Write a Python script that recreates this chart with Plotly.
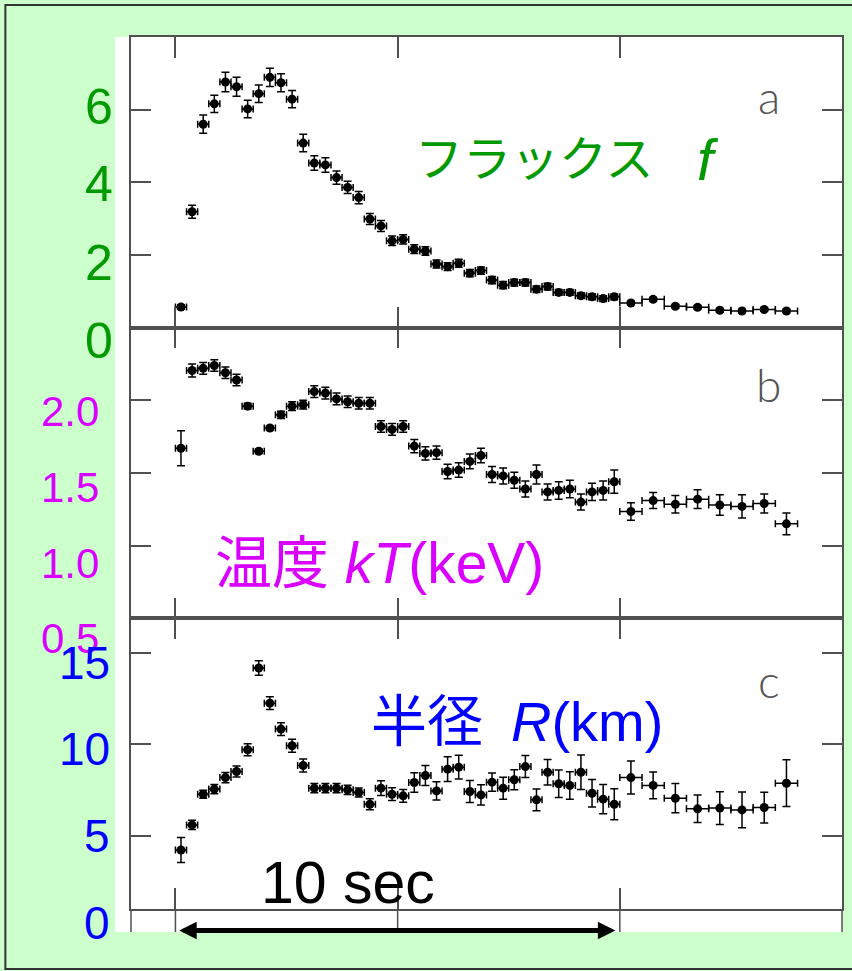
import plotly.graph_objects as go
from plotly.subplots import make_subplots

# time bin centres (s) and half widths
time_s = [0.125, 0.375, 0.625, 0.875, 1.125, 1.375, 1.625, 1.875, 2.125, 2.375,
          2.625, 2.875, 3.125, 3.375, 3.625, 3.875, 4.125, 4.375, 4.625, 4.875,
          5.125, 5.375, 5.625, 5.875, 6.125, 6.375, 6.625, 6.875, 7.125, 7.375,
          7.625, 7.875, 8.125, 8.375, 8.625, 8.875, 9.125, 9.375, 9.625, 9.875,
          10.25, 10.75, 11.25, 11.75, 12.25, 12.75, 13.25, 13.75]
time_half = [0.125] * 40 + [0.25] * 8

# a: flux f
flux = [0.57, 3.19, 5.60, 6.16, 6.76, 6.63, 6.02, 6.44, 6.89, 6.74,
        6.29, 5.08, 4.53, 4.48, 4.13, 3.86, 3.58, 2.99, 2.80, 2.39,
        2.43, 2.16, 2.11, 1.75, 1.68, 1.77, 1.50, 1.57, 1.31, 1.17,
        1.24, 1.24, 1.06, 1.13, 0.97, 0.97, 0.88, 0.85, 0.80, 0.85,
        0.68, 0.78, 0.59, 0.56, 0.48, 0.46, 0.50, 0.46]
flux_err = [0.06, 0.18, 0.25, 0.24, 0.27, 0.26, 0.24, 0.24, 0.25, 0.25,
            0.24, 0.24, 0.20, 0.20, 0.18, 0.17, 0.17, 0.15, 0.15, 0.13,
            0.13, 0.12, 0.12, 0.11, 0.11, 0.11, 0.10, 0.10, 0.10, 0.10,
            0.09, 0.09, 0.09, 0.09, 0.08, 0.08, 0.08, 0.08, 0.08, 0.08,
            0.05, 0.05, 0.05, 0.05, 0.05, 0.05, 0.05, 0.05]

# b: temperature kT (keV)
kT = [1.67, 2.205, 2.22, 2.24, 2.19, 2.14, 1.96, 1.65, 1.81, 1.90,
      1.96, 1.97, 2.06, 2.05, 2.01, 1.99, 1.98, 1.98, 1.82, 1.80,
      1.82, 1.685, 1.635, 1.64, 1.51, 1.52, 1.58, 1.62, 1.49, 1.48,
      1.45, 1.39, 1.49, 1.37, 1.38, 1.39, 1.30, 1.37, 1.38, 1.44,
      1.235, 1.31, 1.285, 1.32, 1.28, 1.27, 1.29, 1.15]
kT_err = [0.12, 0.045, 0.04, 0.04, 0.04, 0.04, 0.02, 0.015, 0.015, 0.025,
          0.03, 0.03, 0.04, 0.04, 0.04, 0.04, 0.04, 0.04, 0.04, 0.04,
          0.04, 0.045, 0.045, 0.045, 0.05, 0.05, 0.05, 0.05, 0.055, 0.055,
          0.055, 0.055, 0.065, 0.055, 0.06, 0.06, 0.055, 0.06, 0.065, 0.08,
          0.06, 0.055, 0.06, 0.065, 0.07, 0.08, 0.065, 0.075]

# c: radius R (km)
radius = [4.23, 5.60, 7.28, 7.56, 8.19, 8.52, 9.71, 14.18, 12.26, 10.84,
          9.93, 8.85, 7.61, 7.61, 7.61, 7.52, 7.37, 6.73, 7.61, 7.28,
          7.19, 7.92, 8.30, 7.46, 8.65, 8.76, 7.43, 7.24, 7.94, 7.61,
          8.07, 8.79, 6.97, 8.48, 7.85, 7.76, 8.48, 7.33, 7.01, 6.73,
          8.19, 7.76, 7.06, 6.48, 6.52, 6.42, 6.55, 7.88]
radius_err = [0.68, 0.25, 0.22, 0.25, 0.28, 0.30, 0.33, 0.40, 0.35, 0.35,
              0.35, 0.35, 0.25, 0.25, 0.25, 0.25, 0.25, 0.30, 0.40, 0.35,
              0.35, 0.53, 0.55, 0.50, 0.68, 0.65, 0.60, 0.55, 0.50, 0.60,
              0.55, 0.60, 0.60, 0.70, 0.75, 0.75, 0.95, 0.75, 0.80, 0.85,
              0.90, 0.73, 0.80, 0.75, 0.90, 0.98, 0.84, 1.28]

# axis settings
x_range = [-1, 15]
x_ticks = [0, 5, 10]
y_ranges = [[0, 8], [0.5, 2.5], [1.0, 16.9]]
y_ticks = [[2, 4, 6], [1.0, 1.5, 2.0], [5, 10, 15]]
domains = [[2 / 3, 1], [1 / 3, 2 / 3], [0, 1 / 3]]

# hand-written tick labels left of the frame
label_text = [["6", "4", "2", "0"], ["2.0", "1.5", "1.0", "0.5"], ["15", "10", "5", "0"]]
label_vals = [[6, 4, 2, 0], [2.0, 1.5, 1.0, 0.5], [15, 10, 5, 0]]
label_shift = [[3, -2, -8, -13], [-11, -14, -18, -20], [-10, -5, 0, 4]]
label_x = [-0.0225, -0.0415, -0.0265]
label_size = [50, 42, 46]
colors = ["#009900", "#d900ff", "#0000ff"]

BG = "#ccffcc"
FRAME = "#505050"

fig = make_subplots(rows=3, cols=1, shared_xaxes=True, vertical_spacing=0)

series = [(flux, flux_err), (kT, kT_err), (radius, radius_err)]
for i, (vals, errs) in enumerate(series):
    fig.add_trace(go.Scatter(
        x=time_s, y=vals,
        mode="markers",
        marker=dict(color="black", size=9),
        error_y=dict(type="data", array=errs, color="black", thickness=1.5, width=4),
        error_x=dict(type="data", array=time_half, color="black", thickness=1.5, width=3.5),
        showlegend=False,
    ), row=i + 1, col=1)

for i in range(3):
    fig.update_xaxes(range=x_range, tickvals=x_ticks, ticks="inside", ticklen=21,
                     tickwidth=1.5, tickcolor=FRAME, showticklabels=False,
                     showline=True, linecolor=FRAME, linewidth=1.5, mirror="ticks",
                     showgrid=False, zeroline=False, row=i + 1, col=1)
    fig.update_yaxes(range=y_ranges[i], tickvals=y_ticks[i], ticks="inside", ticklen=20,
                     tickwidth=1.5, tickcolor=FRAME, showticklabels=False,
                     showline=True, linecolor=FRAME, linewidth=1.5, mirror="ticks",
                     showgrid=False, zeroline=False, row=i + 1, col=1)


def to_paper(v, rng, dom):
    return dom[0] + (v - rng[0]) / (rng[1] - rng[0]) * (dom[1] - dom[0])


annotations = []
for i in range(3):
    for txt, v, sh in zip(label_text[i], label_vals[i], label_shift[i]):
        annotations.append(dict(
            text=txt, xref="paper", yref="paper", x=label_x[i],
            y=to_paper(v, y_ranges[i], domains[i]), yshift=sh,
            xanchor="right", yanchor="middle", showarrow=False,
            font=dict(family="Liberation Sans, Arial", size=label_size[i], color=colors[i]),
        ))

title_font = "Liberation Sans, Noto Sans CJK JP"
annotations += [
    dict(text="フラックス", xref="x", yref="y", x=8.08, y=4.64,
         xanchor="center", yanchor="middle", showarrow=False,
         font=dict(family=title_font, size=48, color=colors[0])),
    dict(text="<i>f</i>", xref="x", yref="y", x=11.98, y=4.64,
         xanchor="center", yanchor="middle", showarrow=False,
         font=dict(family=title_font, size=58, color=colors[0])),
    dict(text="温度 <i>kT</i>(keV)", xref="x2", yref="y2", x=0.84, y=0.88,
         xanchor="left", yanchor="middle", showarrow=False,
         font=dict(family=title_font, size=57, color=colors[1])),
    dict(text="半径\u2002<i>R</i>(km)", xref="x3", yref="y3", x=4.36, y=11.23,
         xanchor="left", yanchor="middle", showarrow=False,
         font=dict(family=title_font, size=56, color=colors[2])),
    dict(text="10 sec", xref="x3", yref="y3", x=1.89, y=2.42,
         xanchor="left", yanchor="middle", showarrow=False,
         font=dict(family="Liberation Sans, Arial", size=59, color="black")),
]
for letter, xr, yr, yv in [("a", "x", "y", 6.36), ("b", "x2", "y2", 2.11), ("c", "x3", "y3", 13.5)]:
    annotations.append(dict(text=letter, xref=xr, yref=yr, x=13.35, y=yv,
                            showarrow=False, xanchor="center", yanchor="middle",
                            font=dict(family="Lato, Open Sans", size=46, color="#555555",
                                      weight=300)))

# 10 s double arrow below the bottom panel
annotations.append(dict(
    x=9.9, y=-0.0247, ax=0.05, ay=0,
    xref="x3", yref="paper", axref="x3", ayref="pixel",
    text="", showarrow=True, arrowhead=2, startarrowhead=2, arrowside="end+start",
    arrowsize=0.7, startarrowsize=0.7, arrowwidth=5, arrowcolor="black",
))

shapes = [
    # white sheet behind the frame
    dict(type="rect", xref="paper", yref="paper", x0=-0.0224, x1=1.0014, y0=-0.0264, y1=1,
         fillcolor="white", line=dict(width=0), layer="below"),
    # outer border of the slide
    dict(type="rect", xref="paper", yref="paper", x0=-0.1767, x1=1.03, y0=-0.0688, y1=1.0367,
         line=dict(color="#333333", width=2), fillcolor="rgba(0,0,0,0)", layer="below"),
    # frame sides and ticks run on below the bottom axis
    dict(type="line", xref="paper", yref="paper", x0=0, x1=0, y0=-0.0264, y1=0,
         line=dict(color=FRAME, width=1.5)),
    dict(type="line", xref="paper", yref="paper", x0=1, x1=1, y0=-0.0264, y1=0,
         line=dict(color=FRAME, width=1.5)),
]
for xv in x_ticks:
    shapes.append(dict(type="line", xref="x3", yref="paper", x0=xv, x1=xv, y0=-0.0264, y1=0,
                       line=dict(color=FRAME, width=1.5)))

fig.update_layout(
    width=852, height=971,
    margin=dict(l=131, r=8, t=37, b=62),
    paper_bgcolor=BG, plot_bgcolor="white",
    annotations=annotations, shapes=shapes,
    showlegend=False,
)

# drop the browser's default page margin so the figure sits at the window corner
fig.write_html("out.html", config={"displayModeBar": False},
               post_script="document.body.style.margin = '0';")
